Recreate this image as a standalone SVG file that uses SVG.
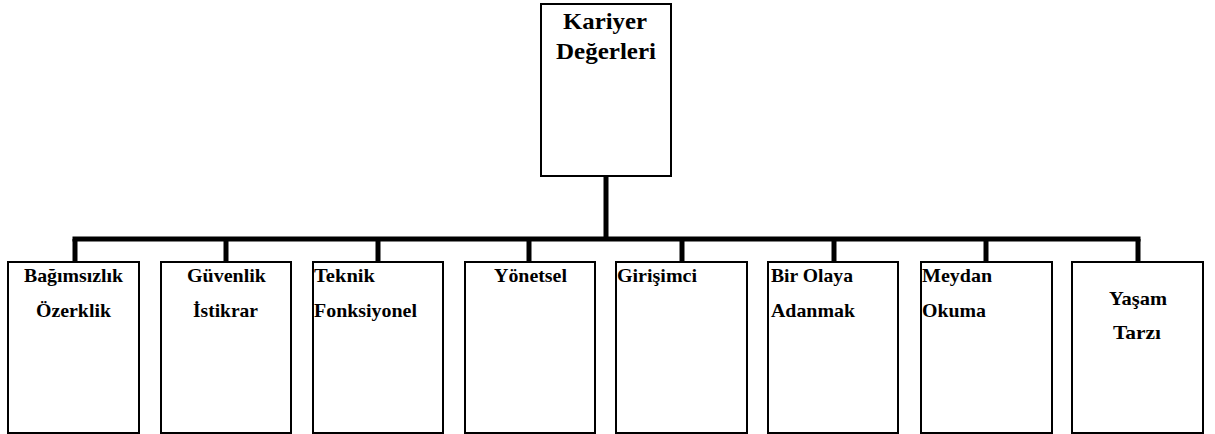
<svg xmlns="http://www.w3.org/2000/svg" width="1215" height="434" viewBox="0 0 1215 434">
<style>
.box{fill:#fff;stroke:#000;stroke-width:2}
.conn{fill:none;stroke:#000;stroke-width:5}
.t{font-family:"Liberation Serif","Times New Roman",serif;font-weight:bold;fill:#000;font-size:19.5px}
.tt{font-family:"Liberation Serif","Times New Roman",serif;font-weight:bold;fill:#000;font-size:23px}
</style>
<rect width="1215" height="434" fill="#fff"/>
<g id="connectors">
<line class="conn" x1="606" y1="176" x2="606" y2="239"/>
<line class="conn" x1="72.5" y1="239" x2="1140.5" y2="239"/>
<line class="conn" x1="75" y1="239" x2="75" y2="262"/>
<line class="conn" x1="226" y1="239" x2="226" y2="262"/>
<line class="conn" x1="378" y1="239" x2="378" y2="262"/>
<line class="conn" x1="529" y1="239" x2="529" y2="262"/>
<line class="conn" x1="682" y1="239" x2="682" y2="262"/>
<line class="conn" x1="834" y1="239" x2="834" y2="262"/>
<line class="conn" x1="986" y1="239" x2="986" y2="262"/>
<line class="conn" x1="1138" y1="239" x2="1138" y2="262"/>
</g>
<g id="root">
<rect class="box" x="541" y="4" width="130" height="172"/>
<text class="tt" x="563" y="29" textLength="84" lengthAdjust="spacingAndGlyphs">Kariyer</text>
<text class="tt" x="556" y="59" textLength="100" lengthAdjust="spacingAndGlyphs">Değerleri</text>
</g>
<g id="n1">
<rect class="box" x="8" y="262" width="131" height="171"/>
<text class="t" x="24" y="282" textLength="99" lengthAdjust="spacingAndGlyphs">Bağımsızlık</text>
<text class="t" x="36" y="317" textLength="75" lengthAdjust="spacingAndGlyphs">Özerklik</text>
</g>
<g id="n2">
<rect class="box" x="161" y="262" width="130" height="171"/>
<text class="t" x="187" y="282" textLength="79" lengthAdjust="spacingAndGlyphs">Güvenlik</text>
<text class="t" x="193" y="317" textLength="65" lengthAdjust="spacingAndGlyphs">İstikrar</text>
</g>
<g id="n3">
<rect class="box" x="313" y="262" width="130" height="171"/>
<text class="t" x="314" y="282" textLength="61" lengthAdjust="spacingAndGlyphs">Teknik</text>
<text class="t" x="314" y="317" textLength="103" lengthAdjust="spacingAndGlyphs">Fonksiyonel</text>
</g>
<g id="n4">
<rect class="box" x="465" y="262" width="130" height="171"/>
<text class="t" x="494" y="282" textLength="73" lengthAdjust="spacingAndGlyphs">Yönetsel</text>
</g>
<g id="n5">
<rect class="box" x="616" y="262" width="131" height="171"/>
<text class="t" x="617" y="282" textLength="80" lengthAdjust="spacingAndGlyphs">Girişimci</text>
</g>
<g id="n6">
<rect class="box" x="768" y="262" width="130" height="171"/>
<text class="t" x="771" y="282" textLength="82" lengthAdjust="spacingAndGlyphs">Bir Olaya</text>
<text class="t" x="771" y="317" textLength="84" lengthAdjust="spacingAndGlyphs">Adanmak</text>
</g>
<g id="n7">
<rect class="box" x="921" y="262" width="131" height="171"/>
<text class="t" x="922" y="282" textLength="70" lengthAdjust="spacingAndGlyphs">Meydan</text>
<text class="t" x="922" y="317" textLength="64" lengthAdjust="spacingAndGlyphs">Okuma</text>
</g>
<g id="n8">
<rect class="box" x="1072" y="262" width="131" height="171"/>
<text class="t" x="1109" y="305" textLength="58" lengthAdjust="spacingAndGlyphs">Yaşam</text>
<text class="t" x="1113" y="339" textLength="48" lengthAdjust="spacingAndGlyphs">Tarzı</text>
</g>
</svg>
